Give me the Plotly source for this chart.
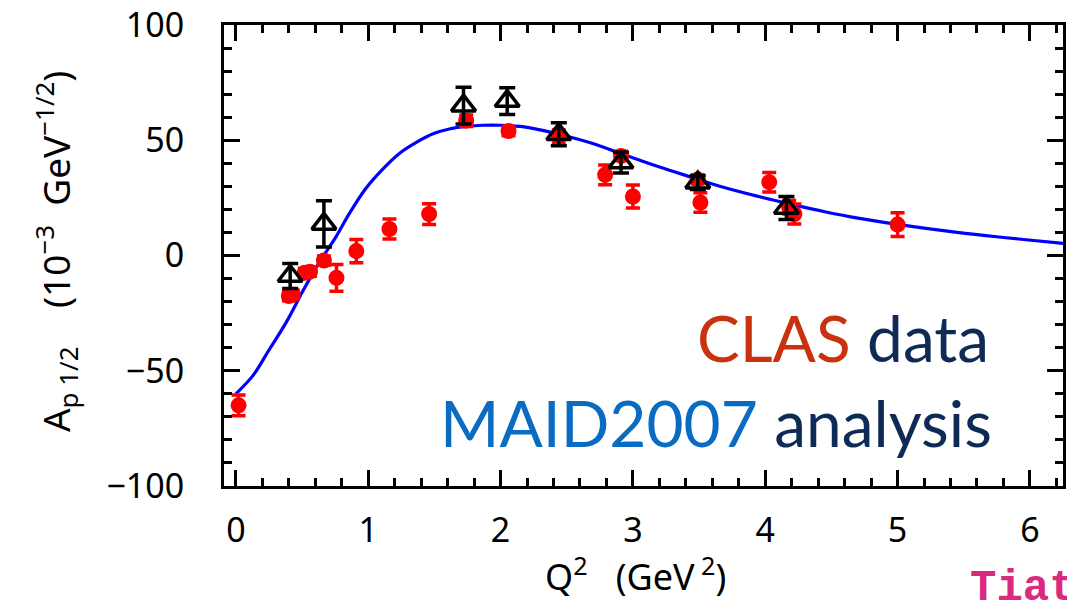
import plotly.graph_objects as go

# CLAS measurements of the proton helicity amplitude A_1/2 (red circles)
clas_q2 = [0.02, 0.40, 0.43, 0.52, 0.56, 0.665, 0.76, 0.91, 1.16, 1.46,
           1.74, 2.06, 2.44, 2.79, 2.91, 3.00, 3.49, 3.51, 4.03, 4.18, 4.22, 5.00]
clas_a = [-65.0, -17.6, -17.0, -7.5, -7.0, -2.2, -9.7, 1.9, 11.5, 18.0,
          58.5, 54.0, 51.5, 35.0, 43.2, 25.6, 33.0, 23.0, 31.8, 21.0, 18.0, 13.4]
clas_err = [4.5, 2.0, 2.0, 2.0, 2.0, 2.0, 5.8, 5.0, 4.3, 4.5,
            2.5, 2.0, 3.0, 4.3, 2.0, 5.0, 2.0, 4.2, 4.2, 3.0, 4.3, 5.2]

# second data set (open triangles)
tri_q2 = [0.41, 0.665, 1.72, 2.05, 2.44, 2.91, 3.49, 4.16]
tri_a = [-8.9, 13.7, 65.0, 67.0, 52.6, 40.3, 31.6, 20.6]
tri_err = [5.4, 10.0, 8.0, 5.8, 5.0, 4.5, 3.0, 5.0]

# MAID2007 curve
maid_q2 = [0.0, 0.13, 0.25, 0.38, 0.51, 0.63, 0.75, 0.86, 0.98, 1.11, 1.24,
           1.37, 1.49, 1.62, 1.74, 1.87, 2.00, 2.15, 2.30, 2.45, 2.69, 2.94,
           3.19, 3.44, 3.69, 3.95, 4.20, 4.45, 4.70, 5.00, 5.45, 5.80, 6.30]
maid_a = [-60.0, -52.0, -41.0, -29.0, -15.0, -3.0, 7.5, 18.5, 29.0, 37.5, 44.5,
          49.3, 52.8, 55.0, 56.0, 56.5, 56.5, 56.0, 54.5, 52.5, 48.7, 43.6,
          38.6, 34.0, 29.5, 25.6, 22.2, 19.0, 16.2, 13.5, 10.0, 7.8, 5.0]

x_ticks = [0, 1, 2, 3, 4, 5, 6]
y_ticks = [-100, -50, 0, 50, 100]

FONT = "Noto Sans"

fig = go.Figure()

fig.add_trace(go.Scatter(
    x=maid_q2, y=maid_a, mode="lines",
    line=dict(color="#0000FF", width=3.2, shape="spline", smoothing=1.0),
    hoverinfo="skip", showlegend=False,
))

fig.add_trace(go.Scatter(
    x=clas_q2, y=clas_a, mode="markers",
    marker=dict(symbol="circle", size=16, color="#FF0000"),
    error_y=dict(type="data", array=clas_err, visible=True,
                 color="#FF0000", thickness=3.5, width=7),
    showlegend=False,
))

fig.add_trace(go.Scatter(
    x=tri_q2, y=tri_a, mode="markers",
    marker=dict(symbol="triangle-up-open", size=21, color="black",
                line=dict(width=3.5, color="black")),
    error_y=dict(type="data", array=tri_err, visible=True,
                 color="black", thickness=3.5, width=8),
    showlegend=False,
))

axis_common = dict(
    showline=True, linecolor="black", linewidth=3, mirror="allticks",
    ticks="inside", ticklen=16, tickwidth=3, tickcolor="black",
    showgrid=False, zeroline=False, ticklabeloverflow="allow",
    tickfont=dict(family=FONT, size=34, color="black"),
)

fig.update_xaxes(
    range=[-0.09, 6.25], tickvals=x_ticks, ticktext=[str(v) for v in x_ticks],
    minor=dict(dtick=0.2, ticks="inside", ticklen=8, tickwidth=3, tickcolor="black"),
    ticklabelstandoff=12,
    **axis_common,
)
fig.update_yaxes(
    range=[-100, 100], tickvals=y_ticks,
    ticktext=["\u2212100", "\u221250", "0", "50", "100"],
    minor=dict(dtick=10, ticks="inside", ticklen=8, tickwidth=3, tickcolor="black"),
    ticklabelstandoff=30,
    **axis_common,
)

annotations = [
    dict(text="Q<sup>2</sup>   (GeV<sup> 2</sup>)", x=0.4905, y=-0.192,
         xref="paper", yref="paper", xanchor="center", yanchor="middle",
         showarrow=False, font=dict(family=FONT, size=36, color="black")),
    dict(text="A<sub>p</sub><sub> 1/2</sub>    (10<sup>\u22123</sup>  GeV<sup>\u22121/2</sup>)",
         x=-0.2, y=0.51, xref="paper", yref="paper", xanchor="center", yanchor="middle",
         textangle=-90, showarrow=False,
         font=dict(family=FONT, size=37, color="black")),
    dict(text="<span style='color:#C9320F'>CLAS</span> data", x=0.914, y=0.3225,
         xref="paper", yref="paper", xanchor="right", yanchor="middle",
         showarrow=False, font=dict(family="Lato", size=64, color="#0D2B55")),
    dict(text="<span style='color:#0A6BC2'>MAID2007</span> analysis", x=0.918, y=0.1385,
         xref="paper", yref="paper", xanchor="right", yanchor="middle",
         showarrow=False, font=dict(family="Lato", size=64, color="#0D2B55")),
    dict(text="<b>Tiator</b>", x=0.887, y=-0.222,
         xref="paper", yref="paper", xanchor="left", yanchor="middle",
         showarrow=False, font=dict(family="Liberation Mono", size=44, color="#D82A7E")),
]

fig.update_layout(
    width=1067, height=603,
    margin=dict(l=224, r=1, t=24, b=117),
    paper_bgcolor="white", plot_bgcolor="white",
    annotations=annotations,
)

fig.write_html("out.html")
